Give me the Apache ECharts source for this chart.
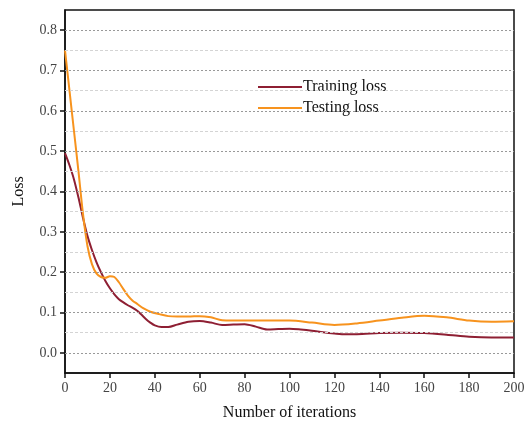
<!DOCTYPE html>
<html><head><meta charset="utf-8">
<script src="https://cdn.jsdelivr.net/npm/echarts@6/dist/echarts.min.js"></script>
<style>html,body{margin:0;padding:0;background:#fff}#c{width:528px;height:429px}</style>
</head><body><div id="c"></div>
<script>
const trainX = [0,2,4,6,8,10,12,14,16,18,20,22,24,26,28,30,32,34,36,38,40,43,46,50,55,60,65,70,75,80,85,90,95,100,105,110,115,120,125,130,140,150,160,170,180,190,200];
const trainY = [0.495,0.465,0.43,0.385,0.335,0.29,0.255,0.225,0.2,0.178,0.16,0.145,0.133,0.125,0.118,0.112,0.105,0.095,0.084,0.075,0.068,0.064,0.064,0.07,0.077,0.079,0.075,0.069,0.07,0.071,0.065,0.058,0.059,0.06,0.058,0.055,0.051,0.048,0.046,0.046,0.049,0.05,0.049,0.045,0.04,0.038,0.038];
const testX = [0,2,4,6,8,10,12,14,16,18,20,22,24,26,28,30,32,35,38,42,46,50,55,60,65,70,80,90,100,110,120,130,140,150,160,170,180,190,200];
const testY = [0.75,0.65,0.55,0.45,0.345,0.265,0.22,0.197,0.188,0.186,0.19,0.188,0.175,0.158,0.142,0.13,0.122,0.11,0.102,0.096,0.091,0.09,0.09,0.091,0.088,0.081,0.08,0.08,0.08,0.075,0.069,0.073,0.08,0.087,0.092,0.088,0.08,0.077,0.078];
const majorTicks = [0,0.1,0.2,0.3,0.4,0.5,0.6,0.7,0.8];
const minorLines = [0.05,0.15,0.25,0.35,0.45,0.55,0.65,0.75];
const seriesNames = ['Training loss','Testing loss'];
const colors = ['#8e1f33','#f7931e'];

const font = '"Liberation Serif", "Times New Roman", serif';
const chart = echarts.init(document.getElementById('c'));
const zip = (xs, ys) => xs.map((x,i)=>[x, ys[i]]);
chart.setOption({
  animation: false,
  textStyle: {fontFamily: font},
  grid: {left: 65, right: 14, top: 10, bottom: 56, show: true, borderColor: '#111', borderWidth: 1.5, backgroundColor: 'transparent'},
  legend: {
    left: 253, top: 74, orient: 'vertical', itemWidth: 44, itemHeight: 2, itemGap: 5,
    textStyle: {fontFamily: font, fontSize: 16, color: '#111', padding: [0,0,0,-4]},
    data: seriesNames.map((n,i) => ({name: n, icon: 'rect', itemStyle: {color: colors[i]}}))
  },
  xAxis: {
    type: 'value', min: 0, max: 200, interval: 20,
    name: 'Number of iterations', nameLocation: 'middle', nameGap: 32,
    nameTextStyle: {fontFamily: font, fontSize: 16, color: '#111'},
    axisLine: {show: true, onZero: false, lineStyle: {color: '#111', width: 1.5}},
    axisTick: {show: true, inside: false, length: 5, lineStyle: {color: '#111', width: 1.5}},
    axisLabel: {fontFamily: font, fontSize: 14, color: '#444', margin: 8},
    splitLine: {show: false}
  },
  yAxis: {
    type: 'value', min: -0.05, max: 0.85,
    name: 'Loss', nameLocation: 'middle', nameGap: 38, nameRotate: 90,
    nameTextStyle: {fontFamily: font, fontSize: 16, color: '#111'},
    axisLine: {show: true, lineStyle: {color: '#111', width: 1.5}},
    axisTick: {show: true, inside: false, length: 5, customValues: majorTicks, lineStyle: {color: '#111', width: 1.5}},
    axisLabel: {fontFamily: font, fontSize: 14, color: '#444', margin: 8, customValues: majorTicks,
      formatter: v => v.toFixed(1)},
    splitLine: {show: false}
  },
  series: [
    {
      name: seriesNames[0], type: 'line', data: zip(trainX, trainY), smooth: 0.3, symbol: 'none',
      lineStyle: {color: colors[0], width: 2}, itemStyle: {color: colors[0]}, z: 3,
      markLine: {
        silent: true, symbol: 'none', label: {show: false}, animation: false,
        data: majorTicks.map(v => ({yAxis: v, lineStyle: {color: '#999', type: [2,2], width: 1}}))
          .concat(minorLines.map(v => ({yAxis: v, lineStyle: {color: '#d4d4d4', type: [3,2], width: 1}})))
      }
    },
    {
      name: seriesNames[1], type: 'line', data: zip(testX, testY), smooth: 0.3, symbol: 'none',
      lineStyle: {color: colors[1], width: 2}, itemStyle: {color: colors[1]}, z: 4
    }
  ]
});
</script></body></html>
